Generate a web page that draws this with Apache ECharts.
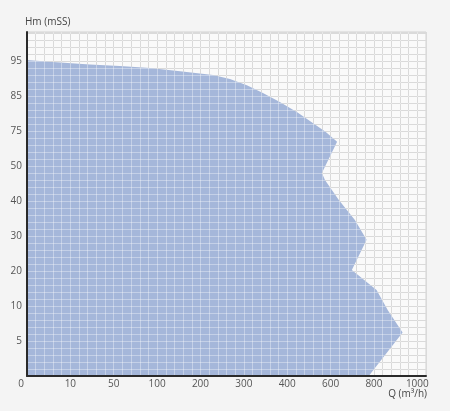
<!DOCTYPE html>
<html>
<head>
<meta charset="utf-8">
<script src="https://cdn.jsdelivr.net/npm/echarts@6/dist/echarts.min.js"></script>
<style>html,body{margin:0;padding:0;background:#f4f4f4;}#c{width:450px;height:411px;}</style>
</head>
<body>
<div id="c"></div>
<script>
// Tick labels (axes are evenly spaced, non-linear)
var xTicks = [0, 10, 50, 100, 200, 300, 400, 600, 800, 1000];
var yTicks = [0, 5, 10, 20, 30, 40, 50, 75, 85, 95];
// Envelope outline: flow Q (m³/h) and head Hm (mSS)
var flowQ = [0, 6, 28, 57, 92, 153, 229, 268, 307, 344, 383, 446, 518, 578, 630, 560, 574, 638, 712, 766, 698, 812, 864, 932, 776, 0];
var headH = [95.3, 94.7, 94, 93.6, 93, 92.1, 91, 89.9, 88.1, 85.9, 83.3, 80.4, 77.3, 74.3, 67.3, 48, 46, 40.3, 34.6, 28.9, 20.3, 14.6, 9.4, 6.2, 0, 0];

function toIdx(v, ticks) {
  for (var i = 0; i < ticks.length - 1; i++) {
    if (v <= ticks[i + 1]) return i + (v - ticks[i]) / (ticks[i + 1] - ticks[i]);
  }
  var n = ticks.length - 1;
  return n + (v - ticks[n]) / (ticks[n] - ticks[n - 1]);
}

var fillColor = '#a5b7da';
var font = 'Open Sans';
var chart = echarts.init(document.getElementById('c'));

function lbl(ticks, skipZero) {
  return function (v) {
    var r = Math.round(v);
    if (Math.abs(v - r) < 1e-6 && r < ticks.length) {
      if (skipZero && r === 0) return '';
      if (r === 0) return '{o|' + ticks[0] + '}';
      return String(ticks[r]);
    }
    return '';
  };
}

chart.setOption({
  backgroundColor: '#f4f4f4',
  animation: false,
  grid: { left: 27, right: 24, top: 32, bottom: 35, show: true, backgroundColor: '#fafafa', borderColor: '#d2d2d2', borderWidth: 1 },
  xAxis: [
    { type: 'value', min: 0, max: 9.2, interval: 0.2, position: 'bottom', z: 0,
      axisLine: { show: false }, axisTick: { show: false },
      axisLabel: { formatter: lbl(xTicks, false), color: '#555', fontSize: 10, fontFamily: font, margin: 3,
        rich: { o: { color: '#555', fontSize: 10, fontFamily: font, padding: [0, 12, 0, 0] } } },
      splitLine: { show: true, lineStyle: { color: '#c6c6c6', width: 1 } } },
    { type: 'value', min: 0, max: 9.2, interval: 0.2, position: 'bottom', z: 10, gridIndex: 0,
      axisLine: { show: true, onZero: false, lineStyle: { color: '#2a2a2a', width: 2 } }, axisTick: { show: false },
      axisLabel: { show: false },
      splitLine: { show: true, lineStyle: { color: 'rgba(255,255,255,0.35)', width: 1 } } }
  ],
  yAxis: [
    { type: 'value', min: 0, max: 9.83, interval: 0.2, position: 'left', z: 0,
      axisLine: { show: false }, axisTick: { show: false },
      axisLabel: { formatter: lbl(yTicks, true), color: '#555', fontSize: 10, fontFamily: font, margin: 5 },
      splitLine: { show: true, lineStyle: { color: '#c6c6c6', width: 1 } } },
    { type: 'value', min: 0, max: 9.83, interval: 0.2, position: 'left', offset: 0, z: 10,
      axisLine: { show: true, onZero: false, lineStyle: { color: '#2a2a2a', width: 2 } }, axisTick: { show: false },
      axisLabel: { show: false },
      splitLine: { show: true, lineStyle: { color: 'rgba(255,255,255,0.35)', width: 1 } } }
  ],
  graphic: [
    { type: 'text', left: 25, top: 17, style: { text: 'Hm (mSS)', fill: '#444', font: '10px "' + font + '"' } },
    { type: 'text', right: 23, top: 389, style: { text: 'Q (m³/h)', fill: '#444', font: '10px "' + font + '"' } }
  ],
  series: [{
    type: 'custom',
    xAxisIndex: 0, yAxisIndex: 0,
    z: 2,
    data: [[0, 0]],
    renderItem: function (params, api) {
      var pts = flowQ.map(function (q, i) {
        return api.coord([toIdx(q, xTicks), toIdx(headH[i], yTicks)]);
      });
      return { type: 'polygon', shape: { points: pts }, style: { fill: fillColor } };
    }
  }]
});
</script>
</body>
</html>
